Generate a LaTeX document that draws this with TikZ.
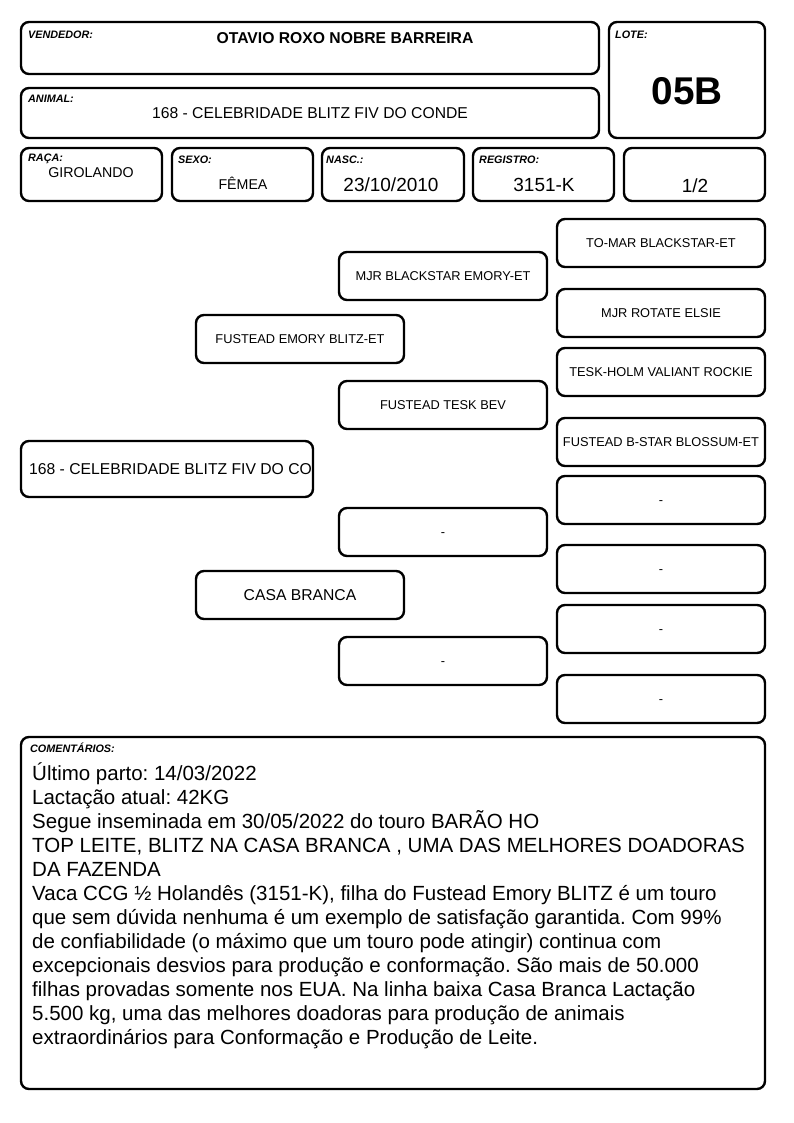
\documentclass[tikz,border=0pt]{standalone}
\usepackage{fontspec}
\setmainfont{Liberation Sans}
\frenchspacing

\begin{document}
\begin{tikzpicture}[x=1pt, y=-1pt,
    box/.style={draw, rectangle, rounded corners=8pt, line width=2.4pt, inner sep=0pt, outer sep=0pt, anchor=north west},
    tag/.style={anchor=base west, inner sep=0pt, font=\fontsize{10.8}{12}\selectfont\bfseries\itshape},
    ped/.style={box, minimum width=208pt, minimum height=48pt, text height=9.2pt, text depth=0pt, font=\fontsize{12.8}{15}\selectfont},
    head/.style={anchor=base, inner sep=0pt, font=\fontsize{15.7}{18}\selectfont},
    big/.style={anchor=base, inner sep=0pt, font=\fontsize{19}{22}\selectfont}]
    \useasboundingbox (0,0) rectangle (794,1123);

    % header
    \node[box, minimum width=578pt, minimum height=52pt] (vendedor) at (21,22) {};
    \node[tag] (vendedortag) at (28,39) {VENDEDOR:};
    \node[head, font=\fontsize{15.7}{18}\selectfont\bfseries] (vendedorname) at (345,43.6) {OTAVIO ROXO NOBRE BARREIRA};

    \node[box, minimum width=156pt, minimum height=116pt] (lote) at (609,22) {};
    \node[tag] (lotetag) at (615,39) {LOTE:};
    \node[anchor=base, inner sep=0pt, font=\fontsize{38.7}{40}\selectfont\bfseries] (loteno) at (687,105) {05B};

    \node[box, minimum width=578pt, minimum height=50pt] (animal) at (21,88) {};
    \node[tag] (animaltag) at (28,103) {ANIMAL:};
    \node[head] (animalname) at (310,118.6) {168 - CELEBRIDADE BLITZ FIV DO CONDE};

    \node[box, minimum width=141pt, minimum height=53pt] (raca) at (21,148) {};
    \node[tag] (racatag) at (28,162) {RAÇA:};
    \node[anchor=base, inner sep=0pt, font=\fontsize{14.2}{16}\selectfont] (racaval) at (91,177.1) {GIROLANDO};

    \node[box, minimum width=141pt, minimum height=53pt] (sexo) at (172,148) {};
    \node[tag] (sexotag) at (178,164) {SEXO:};
    \node[anchor=base, inner sep=0pt, font=\fontsize{14.2}{16}\selectfont] (sexoval) at (243,189.1) {FÊMEA};

    \node[box, minimum width=142pt, minimum height=53pt] (nasc) at (322,148) {};
    \node[tag] (nasctag) at (326,164) {NASC.:};
    \node[big] (nascval) at (391,191.8) {23/10/2010};

    \node[box, minimum width=141pt, minimum height=53pt] (registro) at (473,148) {};
    \node[tag] (registrotag) at (479,164) {REGISTRO:};
    \node[big] (registroval) at (544,191.8) {3151-K};

    \node[box, minimum width=141pt, minimum height=53pt] (parto) at (624,148) {};
    \node[big] (partoval) at (695,192.8) {1/2};

    % pedigree
    \node[box, minimum width=292pt, minimum height=56pt] (root) at (21,441) {};
    \node[anchor=west, inner sep=0pt, font=\fontsize{15.7}{18}\selectfont] (rootname) at (29,469) {168 - CELEBRIDADE BLITZ FIV DO CO};

    \node[ped] (sire) at (196,315) {FUSTEAD EMORY BLITZ-ET};
    \node[ped, text height=11.2pt, font=\fontsize{15.7}{18}\selectfont] (dam) at (196,571) {CASA BRANCA};

    \node[ped] (ss) at (339,252) {MJR BLACKSTAR EMORY-ET};
    \node[ped] (sd) at (339,381) {FUSTEAD TESK BEV};
    \node[ped] (ds) at (339,508) {-};
    \node[ped] (dd) at (339,637) {-};

    \node[ped] (sss) at (557,219) {TO-MAR BLACKSTAR-ET};
    \node[ped] (ssd) at (557,289) {MJR ROTATE ELSIE};
    \node[ped] (sds) at (557,348) {TESK-HOLM VALIANT ROCKIE};
    \node[ped] (sdd) at (557,418) {FUSTEAD B-STAR BLOSSUM-ET};
    \node[ped] (dss) at (557,476) {-};
    \node[ped] (dsd) at (557,545) {-};
    \node[ped] (dds) at (557,605) {-};
    \node[ped] (ddd) at (557,675) {-};

    % comments
    \node[box, minimum width=744pt, minimum height=352pt] (coment) at (21,737) {};
    \node[tag] (comenttag) at (30,752) {COMENTÁRIOS:};
    \node[anchor=base west, inner sep=0pt, align=left, font=\fontsize{20.5}{24}\selectfont] (comenttext) at (32,1044) {%
        Último parto: 14/03/2022\\
        Lactação atual: 42KG\\
        Segue inseminada em 30/05/2022 do touro BARÃO HO\\
        TOP LEITE, BLITZ NA CASA BRANCA , UMA DAS MELHORES DOADORAS\\
        DA FAZENDA\\
        Vaca CCG ½ Holandês (3151-K), filha do Fustead Emory BLITZ é um touro\\
        que sem dúvida nenhuma é um exemplo de satisfação garantida. Com 99\%\\
        de confiabilidade (o máximo que um touro pode atingir) continua com\\
        excepcionais desvios para produção e conformação. São mais de 50.000\\
        filhas provadas somente nos EUA. Na linha baixa Casa Branca Lactação\\
        5.500 kg, uma das melhores doadoras para produção de animais\\
        extraordinários para Conformação e Produção de Leite.};
\end{tikzpicture}
\end{document}
